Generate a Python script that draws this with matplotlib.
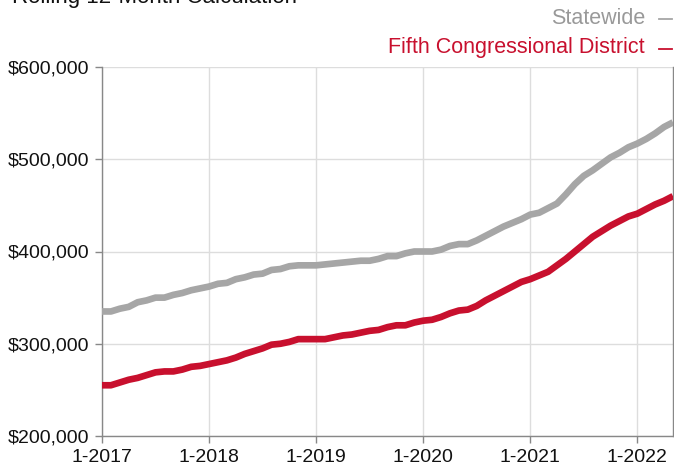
import matplotlib.pyplot as plt
from matplotlib.lines import Line2D

# monthly rolling 12-month median price, Jan 2017 .. May 2022 (thousands $)
years = [2017, 2018, 2019, 2020, 2021, 2022]
months = [f"{m}-{y}" for y in years for m in range(1, 13)][:65]

statewide = [335, 335, 338, 340, 345, 347, 350, 350, 353, 355, 358, 360,
             362, 365, 366, 370, 372, 375, 376, 380, 381, 384, 385, 385,
             385, 386, 387, 388, 389, 390, 390, 392, 395, 395, 398, 400,
             400, 400, 402, 406, 408, 408, 412, 417, 422, 427, 431, 435,
             440, 442, 447, 452, 462, 473, 482, 488, 495, 502, 507, 513,
             517, 522, 528, 535, 540]

fifth = [255, 255, 258, 261, 263, 266, 269, 270, 270, 272, 275, 276,
         278, 280, 282, 285, 289, 292, 295, 299, 300, 302, 305, 305,
         305, 305, 307, 309, 310, 312, 314, 315, 318, 320, 320, 323,
         325, 326, 329, 333, 336, 337, 341, 347, 352, 357, 362, 367,
         370, 374, 378, 385, 392, 400, 408, 416, 422, 428, 433, 438,
         441, 446, 451, 455, 460]

yticks = [200, 300, 400, 500, 600]
ytick_labels = ["$200,000", "$300,000", "$400,000", "$500,000", "$600,000"]

gray = "#a6a6a6"
red = "#c8102e"

plt.rcParams['font.family'] = ['Liberation Sans', 'DejaVu Sans']

fig = plt.figure(figsize=(6.74, 4.68), dpi=100)
ax = fig.add_axes([102 / 674, 1 - 436 / 468, 571 / 674, 369 / 468])

x = list(range(len(months)))
ax.plot(x, statewide, color=gray, lw=4.8, solid_capstyle='butt', zorder=3)
ax.plot(x, fifth, color=red, lw=4.8, solid_capstyle='butt', zorder=3)

ax.set_xlim(0, len(months) - 1)
ax.set_ylim(200, 600)

xt = [i for i, m in enumerate(months) if m.startswith("1-")]
ax.set_xticks(xt)
ax.set_xticklabels([months[i] for i in xt])
ax.set_yticks(yticks)
ax.set_yticklabels(ytick_labels)

ax.grid(True, color="#dddddd", lw=1)
ax.set_axisbelow(True)
ax.tick_params(axis='both', length=5, width=1, color="#888888",
               labelsize=14, labelcolor="#111111", pad=4)

for side in ["left", "bottom", "right"]:
    ax.spines[side].set_color("#888888")
    ax.spines[side].set_linewidth(1)
ax.spines["top"].set_visible(False)

# legend drawn as right-aligned labels with short dashes
fig.text(645 / 674, 1 - 18 / 468, "Statewide", color="#999999",
         fontsize=15.5, ha='right', va='center')
fig.text(645 / 674, 1 - 48 / 468, "Fifth Congressional District", color=red,
         fontsize=15.5, ha='right', va='center')
for yy, c in [(19, gray), (49, red)]:
    fig.add_artist(Line2D([659 / 674, 672 / 674], [1 - yy / 468, 1 - yy / 468],
                          color=c, lw=1.3))

# title, mostly cut off at the top edge
fig.text(12 / 674, 1 - 3 / 468, "Rolling 12-Month Calculation", color="#111111",
         fontsize=16, ha='left', va='baseline')

fig.savefig("out.png", dpi=100)
